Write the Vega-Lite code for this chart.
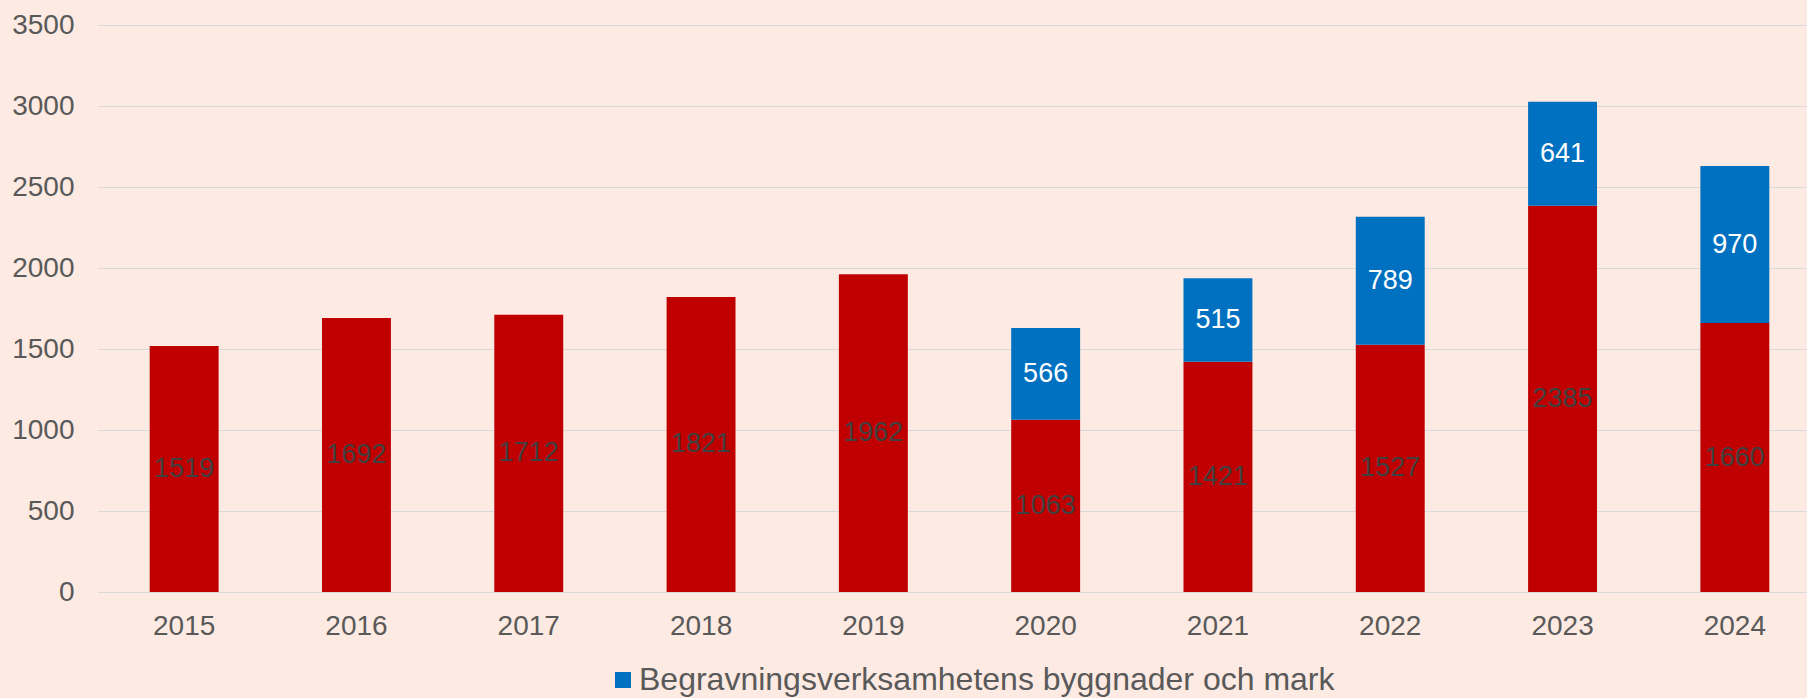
{
  "$schema": "https://vega.github.io/schema/vega-lite/v6.json",
  "width": 1723,
  "height": 567,
  "autosize": {"type": "none"},
  "padding": {"left": 98, "top": 25, "right": 0, "bottom": 106},
  "background": "#FDEAE2",
  "config": {
    "view": {"stroke": null},
    "font": "Liberation Sans",
    "axis": {"labelFont": "Liberation Sans", "labelColor": "#595959", "labelFontSize": 28},
    "legend": {"labelFont": "Liberation Sans"}
  },
  "data": {
    "values": [
      {"year": "2015", "series": "Övrigt", "value": 1519},
      {"year": "2016", "series": "Övrigt", "value": 1692},
      {"year": "2017", "series": "Övrigt", "value": 1712},
      {"year": "2018", "series": "Övrigt", "value": 1821},
      {"year": "2019", "series": "Övrigt", "value": 1962},
      {"year": "2020", "series": "Övrigt", "value": 1063},
      {"year": "2020", "series": "Begravningsverksamhetens byggnader och mark", "value": 566},
      {"year": "2021", "series": "Övrigt", "value": 1421},
      {"year": "2021", "series": "Begravningsverksamhetens byggnader och mark", "value": 515},
      {"year": "2022", "series": "Övrigt", "value": 1527},
      {"year": "2022", "series": "Begravningsverksamhetens byggnader och mark", "value": 789},
      {"year": "2023", "series": "Övrigt", "value": 2385},
      {"year": "2023", "series": "Begravningsverksamhetens byggnader och mark", "value": 641},
      {"year": "2024", "series": "Övrigt", "value": 1660},
      {"year": "2024", "series": "Begravningsverksamhetens byggnader och mark", "value": 970}
    ]
  },
  "transform": [
    {"stack": "value", "groupby": ["year"], "as": ["v0", "v1"], "sort": [{"field": "series", "order": "descending"}]}
  ],
  "encoding": {
    "x": {
      "field": "year", "type": "nominal", "title": null,
      "scale": {"paddingInner": 0.6, "paddingOuter": 0.3},
      "axis": {"labelAngle": 0, "ticks": false, "domain": false, "labelPadding": 20}
    }
  },
  "layer": [
    {
      "mark": {"type": "bar"},
      "encoding": {
        "y": {
          "field": "v0", "type": "quantitative", "title": null,
          "scale": {"domain": [0, 3500], "nice": false},
          "axis": {"values": [0, 500, 1000, 1500, 2000, 2500, 3000, 3500], "format": "d", "ticks": false, "domain": false, "gridColor": "#D9D9D9", "gridWidth": 1.2, "labelPadding": 24}
        },
        "y2": {"field": "v1"},
        "color": {
          "field": "series", "type": "nominal",
          "scale": {"domain": ["Begravningsverksamhetens byggnader och mark", "Övrigt"], "range": ["#0070C0", "#C00000"]},
          "legend": {
            "values": ["Begravningsverksamhetens byggnader och mark"],
            "title": null, "orient": "none", "legendX": 509, "legendY": 639,
            "symbolType": "square", "symbolSize": 256, "symbolStrokeWidth": 0,
            "labelFontSize": 32, "labelColor": "#595959", "labelLimit": 0, "labelOffset": 0
          }
        }
      }
    },
    {
      "transform": [
        {"fold": ["v0", "v1"], "as": ["edge", "pos"]},
        {"aggregate": [{"op": "mean", "field": "pos", "as": "mid"}], "groupby": ["year", "series", "value"]}
      ],
      "mark": {"type": "text", "fontSize": 27},
      "encoding": {
        "y": {"field": "mid", "type": "quantitative"},
        "text": {"field": "value", "type": "quantitative", "format": "d"},
        "color": {
          "condition": {"test": "datum.series === 'Begravningsverksamhetens byggnader och mark'", "value": "#FFFFFF"},
          "value": "#404040"
        }
      }
    }
  ]
}
